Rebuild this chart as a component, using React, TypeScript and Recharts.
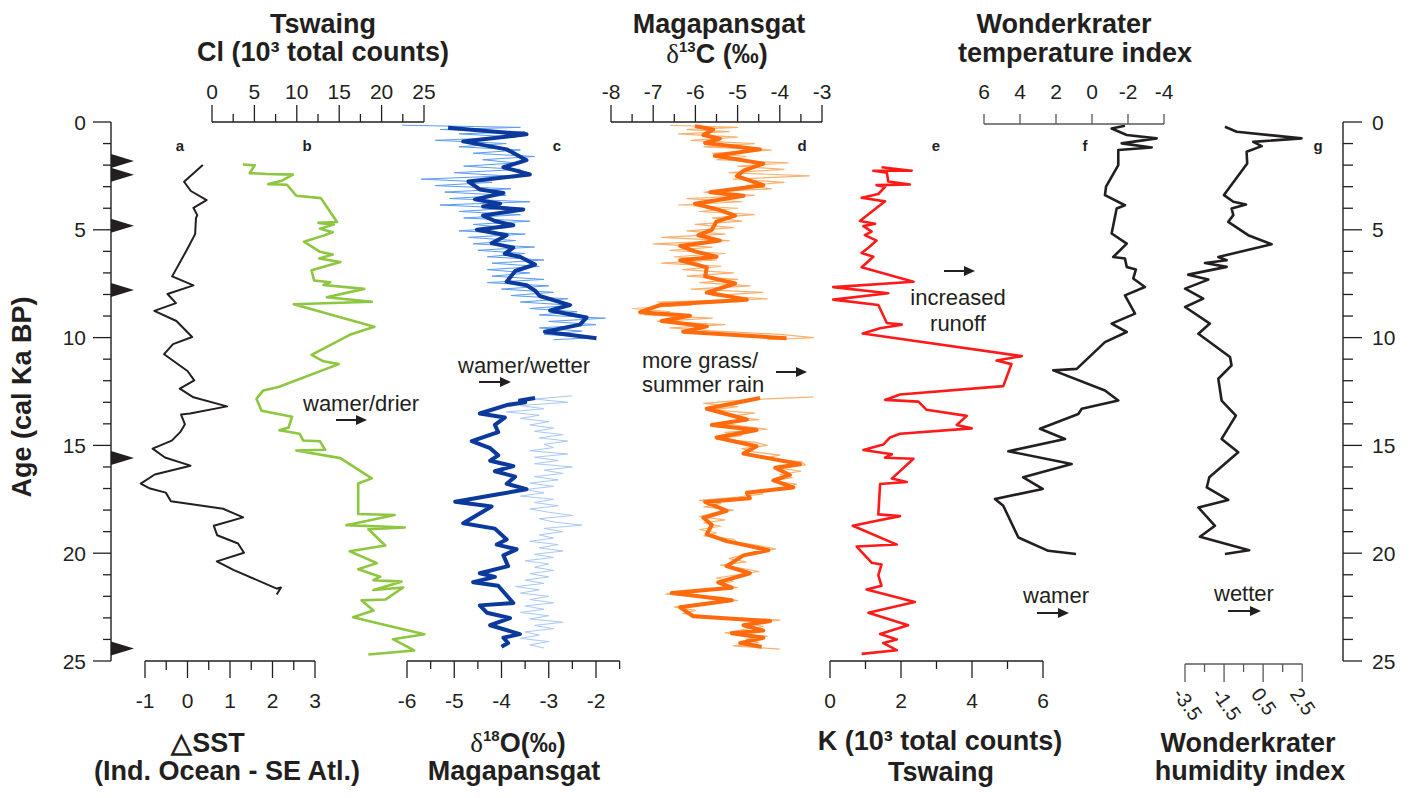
import React from "react";
import { ScatterChart, Scatter, XAxis, YAxis } from "recharts";

// ---- records as [age (cal ka BP), value] ----
const sstRecord: [number, number][] = [
  [2.0, 0.35], [2.77, -0.09], [3.2, 0.07], [3.62, 0.44], [3.98, 0.13], [4.32, 0.22], [4.46, 0.19],
  [5.2, 0.17], [5.95, -0.03], [7.16, -0.37], [7.58, 0.13], [7.98, -0.48], [8.4, -0.28], [8.76, -0.79],
  [9.23, -0.27], [9.97, 0.1], [10.3, -0.35], [10.77, -0.56], [11.55, -0.01], [11.98, 0.15], [12.37, -0.19],
  [12.77, 0.13], [13.19, 0.92], [13.52, 0.05], [13.57, -0.16], [14.02, -0.07], [14.36, -0.17], [14.78, -0.38],
  [15.15, -0.83], [15.56, -0.54], [15.94, 0.06], [16.35, -0.78], [16.77, -1.11], [17.0, -0.89], [17.19, -0.52],
  [17.59, -0.4], [17.94, 0.83], [18.34, 1.3], [18.73, 0.61], [19.17, 0.69], [19.55, 1.18], [19.98, 1.32],
  [20.38, 0.68], [20.77, 1.07], [21.64, 2.09], [21.59, 2.19], [21.92, 2.09],
];

const clRecord: [number, number][] = [
  [1.97, 3.7], [2.01, 5.1], [2.37, 4.5], [2.41, 6.5], [2.44, 9.6], [2.72, 8.3], [2.88, 6.7], [2.91, 8.9],
  [3.42, 10.0], [3.53, 12.9], [4.64, 14.8], [4.68, 12.6], [4.76, 14.4], [4.95, 12.8], [5.11, 14.3], [5.27, 13.2],
  [5.55, 10.9], [6.02, 12.8], [6.15, 14.3], [6.33, 12.7], [6.49, 15.2], [6.88, 11.8], [7.35, 12.1], [7.43, 14.0],
  [7.56, 13.2], [7.74, 18.0], [8.13, 13.6], [8.34, 18.9], [8.45, 9.7], [9.5, 19.2], [9.87, 16.3], [10.8, 11.8],
  [11.1, 13.2], [11.23, 15.0], [12.29, 7.9], [12.45, 6.1], [12.84, 5.3], [13.39, 5.9], [13.67, 9.5], [14.17, 9.1],
  [14.3, 8.0], [14.46, 10.4], [14.77, 10.8], [14.81, 12.8], [15.2, 13.4], [15.24, 10.0], [15.59, 15.2],
  [16.53, 18.9], [16.77, 17.3], [18.18, 17.3], [18.23, 21.6], [18.7, 15.9], [18.81, 22.8], [18.89, 18.5],
  [19.64, 20.5], [19.91, 16.3], [20.46, 19.5], [20.74, 17.3], [21.09, 19.9], [21.25, 19.1], [21.32, 22.4],
  [21.71, 19.1], [21.59, 22.6], [22.15, 20.5], [22.19, 17.7], [22.66, 19.1], [22.97, 16.7], [23.3, 20.1],
  [23.76, 25.1], [23.99, 21.4], [24.51, 23.9], [24.7, 18.5],
];

const d18oUpper: [number, number][] = [
  [0.27, -5.13], [0.57, -3.47], [0.9, -4.81], [1.27, -3.89], [1.77, -3.47], [2.1, -3.96], [2.43, -3.4],
  [2.76, -4.7], [3.13, -4.46], [3.29, -3.96], [3.59, -4.56], [3.79, -4.03], [3.92, -4.39], [4.06, -3.54],
  [4.34, -4.39], [4.59, -4.14], [4.79, -3.75], [5.0, -4.52], [5.25, -3.89], [5.62, -4.21], [5.83, -3.75],
  [6.11, -3.93], [6.25, -3.61], [6.61, -3.29], [6.91, -3.71], [7.41, -3.89], [7.57, -3.47], [7.82, -3.29],
  [8.07, -3.19], [8.49, -2.55], [8.74, -2.97], [9.07, -2.2], [9.4, -2.34], [9.73, -3.08], [10.03, -1.99],
];

const d18oLower: [number, number][] = [
  [12.8, -3.29], [12.92, -3.61], [13.0, -3.5], [13.13, -3.89], [13.52, -4.46], [13.71, -3.93], [14.05, -4.14],
  [14.38, -4.07], [14.8, -4.63], [15.13, -4.24], [15.46, -4.07], [15.71, -4.24], [15.96, -3.75], [16.2, -4.14],
  [16.45, -3.71], [16.78, -3.89], [17.03, -3.47], [17.28, -4.1], [17.61, -4.98], [17.83, -4.21], [18.61, -4.81],
  [18.86, -4.14], [19.36, -3.89], [19.6, -4.1], [19.82, -3.68], [20.1, -3.96], [20.6, -3.86], [20.93, -4.46],
  [21.1, -4.14], [21.35, -4.6], [21.51, -4.07], [22.31, -3.75], [22.42, -4.46], [22.76, -4.31], [23.01, -3.82],
  [23.34, -4.24], [23.75, -3.61], [23.92, -3.96], [24.17, -3.86], [24.34, -4.0],
];

// raw (unsmoothed) d18O, thin light blue
const d18oRawUpper: [number, number][] = [
  [0.15, -6.1], [0.25, -3.6], [0.35, -5.3], [0.45, -3.5], [0.55, -4.9], [0.7, -3.7], [0.85, -5.4], [1.0, -3.9],
  [1.15, -4.9], [1.3, -3.6], [1.45, -4.6], [1.6, -3.3], [1.75, -4.4], [1.9, -3.7], [2.05, -4.8], [2.2, -3.6],
  [2.35, -5.0], [2.5, -3.9], [2.65, -5.7], [2.8, -4.2], [2.95, -5.4], [3.1, -3.8], [3.25, -5.2], [3.4, -3.9],
  [3.55, -5.1], [3.7, -3.4], [3.85, -5.3], [4.0, -3.8], [4.15, -4.9], [4.3, -3.6], [4.45, -4.8], [4.6, -3.4],
  [4.75, -4.6], [4.9, -3.9], [5.05, -4.9], [5.2, -3.5], [5.35, -4.7], [5.5, -3.7], [5.65, -4.6], [5.8, -3.3],
  [5.95, -4.5], [6.1, -3.5], [6.25, -4.3], [6.4, -3.1], [6.55, -4.2], [6.7, -3.2], [6.85, -4.3], [7.0, -3.4],
  [7.15, -4.2], [7.3, -3.1], [7.45, -4.3], [7.6, -3.0], [7.75, -4.0], [7.9, -2.9], [8.05, -3.8], [8.2, -2.6],
  [8.35, -3.6], [8.5, -2.5], [8.65, -3.4], [8.8, -2.4], [8.95, -3.2], [9.1, -1.8], [9.25, -3.0], [9.4, -2.0],
  [9.55, -3.2], [9.7, -2.3], [9.85, -3.1], [10.0, -2.0], [10.1, -2.9],
];

const d18oRawLower: [number, number][] = [
  [12.7, -2.5], [12.85, -3.3], [13.0, -2.6], [13.15, -3.6], [13.3, -3.1], [13.45, -3.9], [13.6, -3.2],
  [13.75, -3.6], [13.9, -3.0], [14.05, -3.4], [14.2, -2.9], [14.35, -3.3], [14.5, -2.7], [14.65, -3.2],
  [14.8, -2.6], [14.95, -3.1], [15.1, -2.9], [15.25, -3.4], [15.4, -2.6], [15.55, -3.3], [15.7, -2.8],
  [15.85, -3.3], [16.0, -2.5], [16.15, -3.1], [16.3, -2.7], [16.45, -3.3], [16.6, -2.8], [16.75, -3.4],
  [16.9, -2.9], [17.05, -3.5], [17.2, -3.1], [17.35, -3.6], [17.5, -2.9], [17.65, -3.3], [17.8, -2.8],
  [17.95, -3.4], [18.1, -3.0], [18.25, -2.5], [18.4, -3.2], [18.55, -2.9], [18.7, -2.3], [18.85, -3.1],
  [19.0, -2.7], [19.15, -3.2], [19.3, -2.9], [19.45, -3.4], [19.6, -2.8], [19.75, -3.2], [19.9, -2.7],
  [20.05, -3.3], [20.2, -2.9], [20.35, -3.5], [20.5, -3.0], [20.65, -3.3], [20.8, -2.9], [20.95, -3.4],
  [21.1, -3.0], [21.25, -3.5], [21.4, -3.1], [21.55, -3.7], [21.7, -3.2], [21.85, -3.6], [22.0, -3.0],
  [22.15, -3.4], [22.3, -2.9], [22.45, -3.5], [22.6, -3.1], [22.75, -3.6], [22.9, -3.0], [23.05, -3.4],
  [23.2, -2.7], [23.35, -3.3], [23.5, -2.9], [23.65, -3.5], [23.8, -3.2], [23.95, -3.6], [24.1, -3.0],
  [24.25, -3.4], [24.4, -3.1],
];

const d13cUpper: [number, number][] = [
  [0.19, -6.01], [0.35, -5.58], [0.6, -5.81], [0.77, -5.42], [0.97, -5.77], [1.27, -4.47], [1.57, -5.54],
  [1.93, -4.39], [2.26, -4.86], [2.51, -5.02], [2.93, -4.39], [3.26, -5.65], [3.42, -4.86], [3.79, -6.01],
  [4.09, -5.42], [4.34, -5.06], [4.62, -5.5], [5.0, -5.61], [5.25, -5.93], [5.5, -5.42], [5.75, -6.36],
  [6.0, -6.01], [6.25, -5.5], [6.41, -6.36], [6.74, -5.73], [7.16, -5.77], [7.49, -5.06], [7.91, -5.73],
  [8.24, -4.78], [8.49, -6.84], [8.82, -7.31], [8.99, -6.13], [9.23, -6.8], [9.48, -5.73], [9.73, -6.29],
  [10.03, -3.84],
];

const d13cLower: [number, number][] = [
  [12.8, -4.47], [13.3, -5.73], [13.8, -4.78], [14.05, -5.61], [14.29, -4.55], [14.63, -5.5], [15.04, -4.55],
  [15.38, -4.86], [15.87, -3.52], [16.04, -4.11], [16.37, -3.76], [16.62, -4.15], [16.95, -3.68], [17.2, -4.78],
  [17.45, -4.71], [17.62, -5.77], [18.03, -5.26], [18.36, -5.81], [18.69, -5.61], [19.11, -5.73], [19.44, -5.26],
  [19.86, -4.27], [20.1, -4.86], [20.6, -5.26], [20.93, -4.71], [21.35, -5.46], [21.6, -5.14], [21.85, -6.56],
  [22.18, -5.14], [22.51, -6.36], [22.93, -6.05], [23.15, -4.23], [23.34, -4.86], [23.59, -4.39], [23.71, -5.14],
  [23.92, -4.39], [24.17, -4.94], [24.34, -4.43],
];

const d13cRawUpper: [number, number][] = [
  [0.15, -6.6], [0.25, -5.0], [0.35, -6.2], [0.45, -5.2], [0.55, -6.4], [0.7, -5.0], [0.85, -6.1], [1.0, -4.6],
  [1.15, -5.8], [1.3, -4.2], [1.45, -5.6], [1.6, -4.8], [1.75, -5.5], [1.9, -3.8], [2.05, -5.0], [2.2, -3.9],
  [2.35, -5.2], [2.5, -3.3], [2.65, -5.1], [2.8, -3.9], [2.95, -4.8], [3.1, -4.2], [3.25, -5.8], [3.4, -4.6],
  [3.55, -6.2], [3.7, -4.9], [3.85, -6.4], [4.0, -5.0], [4.15, -5.9], [4.3, -4.6], [4.45, -5.6], [4.6, -4.9],
  [4.75, -6.0], [4.9, -5.1], [5.05, -6.2], [5.2, -5.3], [5.35, -6.8], [5.5, -5.2], [5.65, -7.0], [5.8, -5.6],
  [5.95, -6.6], [6.1, -5.3], [6.25, -6.5], [6.4, -5.5], [6.55, -6.8], [6.7, -5.4], [6.85, -6.3], [7.0, -5.1],
  [7.15, -6.2], [7.3, -5.0], [7.45, -5.9], [7.6, -4.7], [7.75, -6.1], [7.9, -4.4], [8.05, -5.6], [8.2, -4.3],
  [8.35, -6.9], [8.5, -6.1], [8.65, -7.5], [8.8, -6.6], [8.95, -7.2], [9.1, -5.6], [9.25, -6.9], [9.4, -5.3],
  [9.55, -6.6], [9.7, -5.5], [9.85, -4.0], [10.0, -3.2], [10.1, -4.3],
];

const d13cRawLower: [number, number][] = [
  [12.75, -3.2], [12.9, -4.9], [13.05, -5.8], [13.2, -5.0], [13.35, -5.6], [13.5, -4.6], [13.65, -5.2],
  [13.8, -4.5], [13.95, -5.4], [14.1, -4.9], [14.25, -4.3], [14.4, -5.3], [14.55, -4.9], [14.7, -5.5],
  [14.85, -4.6], [15.0, -4.3], [15.15, -4.9], [15.3, -4.6], [15.45, -4.0], [15.6, -4.4], [15.75, -3.5],
  [15.9, -3.4], [16.05, -4.0], [16.2, -3.5], [16.35, -4.0], [16.5, -3.7], [16.65, -4.2], [16.8, -3.6],
  [16.95, -3.9], [17.1, -4.5], [17.25, -4.4], [17.4, -5.0], [17.55, -5.9], [17.7, -5.4], [17.85, -5.8],
  [18.0, -5.1], [18.15, -5.6], [18.3, -5.9], [18.45, -5.3], [18.6, -5.8], [18.75, -5.4], [18.9, -5.9],
  [19.05, -5.5], [19.2, -5.8], [19.35, -5.1], [19.5, -5.0], [19.65, -4.5], [19.8, -4.1], [19.95, -4.6],
  [20.1, -4.9], [20.25, -5.2], [20.4, -4.8], [20.55, -5.4], [20.7, -4.9], [20.85, -4.5], [21.0, -5.0],
  [21.15, -5.5], [21.3, -5.1], [21.45, -5.4], [21.6, -5.0], [21.75, -6.2], [21.9, -6.7], [22.05, -5.4],
  [22.2, -5.0], [22.35, -6.0], [22.5, -6.5], [22.65, -6.0], [22.8, -6.3], [22.95, -5.5], [23.1, -4.0],
  [23.25, -4.7], [23.4, -4.4], [23.55, -4.9], [23.7, -5.3], [23.85, -4.3], [24.0, -4.8], [24.15, -4.5],
  [24.3, -5.1], [24.45, -4.0],
];

const kRecord: [number, number][] = [
  [2.1, 1.44], [2.26, 2.29], [2.26, 1.21], [2.35, 1.59], [2.76, 1.63], [2.9, 2.24], [2.93, 1.3], [3.01, 1.54],
  [3.34, 1.35], [3.51, 0.88], [3.68, 1.54], [4.59, 0.83], [4.72, 1.26], [4.83, 0.93], [5.08, 1.16], [5.25, 0.97],
  [5.5, 1.3], [5.83, 1.07], [6.08, 0.88], [6.25, 1.21], [6.74, 0.88], [7.41, 2.34], [7.66, 0.08], [7.94, 1.63],
  [8.24, 0.08], [8.49, 1.35], [9.32, 1.59], [9.4, 2.01], [9.57, 1.4], [9.81, 0.91], [10.86, 5.39], [11.06, 4.68],
  [11.23, 5.1], [12.25, 4.87], [12.64, 1.96], [12.89, 1.54], [12.97, 2.48], [13.35, 2.71], [13.63, 3.84],
  [14.05, 3.56], [14.21, 3.98], [14.46, 1.96], [14.63, 1.68], [14.96, 1.49], [15.21, 0.93], [15.41, 1.73],
  [15.57, 1.54], [15.62, 2.34], [16.54, 1.73], [16.7, 2.15], [16.79, 1.4], [18.2, 1.35], [18.28, 1.96],
  [18.53, 1.21], [18.73, 0.63], [19.6, 1.87], [19.69, 0.74], [20.44, 1.16], [20.52, 1.44], [21.02, 1.35],
  [21.51, 1.44], [21.68, 1.02], [22.26, 2.38], [22.76, 1.07], [23.34, 2.19], [23.75, 1.4], [24.0, 1.87],
  [24.17, 1.49], [24.5, 1.87], [24.67, 0.88],
];

const tempRecord: [number, number][] = [
  [0.17, -1.83], [0.3, -1.09], [0.6, -1.93], [0.76, -3.59], [0.99, -1.65], [1.18, -3.32], [1.3, -1.46],
  [2.0, -1.46], [3.0, -0.78], [3.39, -0.72], [3.86, -1.83], [4.01, -1.37], [5.17, -1.09], [5.64, -1.93],
  [6.26, -1.18], [6.33, -1.83], [6.72, -1.93], [6.84, -2.44], [7.26, -2.29], [7.65, -2.94], [8.04, -1.83],
  [8.89, -2.39], [9.35, -1.09], [9.74, -1.93], [10.21, -0.72], [11.45, 0.85], [11.52, 2.15], [12.45, -0.72],
  [12.92, -1.46], [13.3, 0.57], [13.54, 0.76], [14.23, 2.89], [14.7, 1.5], [15.27, 4.65], [15.86, 1.13],
  [16.48, 3.82], [17.02, 2.74], [17.49, 5.39], [17.8, 4.93], [19.27, 4.09], [19.89, 2.43], [20.04, 0.89],
];

const humidityRecord: [number, number][] = [
  [0.22, -1.43], [0.45, -0.83], [0.76, 2.49], [0.92, 0.02], [1.12, 0.45], [1.38, -0.32], [1.92, -0.29],
  [3.39, -1.48], [3.7, -1.0], [3.83, -0.35], [4.01, -1.09], [4.32, -1.0], [4.63, -1.26], [5.25, -0.24],
  [5.67, 0.96], [6.26, -1.77], [6.41, -1.34], [6.54, -2.45], [6.72, -1.34], [7.08, -3.31], [7.31, -2.28],
  [7.73, -3.47], [8.19, -2.54], [8.58, -3.47], [9.35, -2.2], [9.82, -2.79], [10.9, -1.17], [11.29, -1.09],
  [11.91, -1.77], [12.92, -1.6], [13.62, -0.87], [14.7, -1.6], [15.32, -0.75], [16.48, -2.23], [16.95, -2.36],
  [17.53, -1.26], [17.88, -2.79], [18.73, -1.94], [19.24, -2.71], [19.86, -0.19], [20.04, -1.43],
];

// dated levels marked on the age axis
const dateMarkerAges = [1.81, 2.45, 4.81, 7.79, 15.58, 24.42];

// ---- ticks ----
const ageTicks = [0, 1, 2, 3, 4, 5, 6, 7, 8, 9, 10, 11, 12, 13, 14, 15, 16, 17, 18, 19, 20, 21, 22, 23, 24, 25];
const sstTicks = [-1, -0.5, 0, 0.5, 1, 1.5, 2, 2.5, 3];
const clTicks = [0, 2.5, 5, 7.5, 10, 12.5, 15, 17.5, 20, 22.5, 25];
const d18oTicks = [-6, -5.5, -5, -4.5, -4, -3.5, -3, -2.5, -2, -1.5];
const d13cTicks = [-8, -7.5, -7, -6.5, -6, -5.5, -5, -4.5, -4, -3.5, -3];
const kTicks = [0, 1, 2, 3, 4, 5, 6];
const tempTicks = [6, 4, 2, 0, -2, -4];
const humidityTicks = [-3.5, -2.5, -1.5, -0.5, 0.5, 1.5, 2.5];
const humidityLabels = [-3.5, -1.5, 0.5, 2.5];

// ---- layout ----
const W = 1418;
const H = 798;
const PLOT_TOP = 122;
const PLOT_BOTTOM = 661;
const PLOT_LEFT = 111;
const PLOT_RIGHT = 1343;
const PAD = 30;
const AH = 80;

const SANS = '"Liberation Sans", Arial, Helvetica, sans-serif';
const SERIF = '"Liberation Serif", "Times New Roman", serif';
const INK = "#231f20";
const GREY = "#58595b";
const GREEN = "#8dc63f";
const NAVY = "#0b3a9c";
const SKY = "#5b9cf2";
const SKY_PALE = "#a9c8f6";
const ORANGE = "#ff6a0d";
const PEACH = "#f9b16e";
const RED = "#ff1a1a";

type Scale = { v0: number; v1: number; p0: number; p1: number };

// value -> pixel anchors of each panel's own axis
const scales: Record<string, Scale> = {
  sst: { v0: -1, v1: 3, p0: 145.4, p1: 315.4 },
  cl: { v0: 0, v1: 25, p0: 211.5, p1: 423.5 },
  d18o: { v0: -6, v1: -2, p0: 407, p1: 596 },
  d13c: { v0: -8, v1: -3, p0: 611, p1: 822 },
  k: { v0: 0, v1: 6, p0: 830.4, p1: 1043.4 },
  temp: { v0: 6, v1: -4, p0: 984, p1: 1164 },
  hum: { v0: -3.5, v1: 2.5, p0: 1184.5, p1: 1301.7 },
};

// domain of a hidden axis spanning the whole plot so the panel lines up with its own axis
function plotDomain(s: Scale) {
  const m = (s.v1 - s.v0) / (s.p1 - s.p0);
  const a = s.v0 + (PLOT_LEFT - s.p0) * m;
  const b = s.v0 + (PLOT_RIGHT - s.p0) * m;
  return { domain: [Math.min(a, b), Math.max(a, b)] as [number, number], reversed: m < 0 };
}

const toPoints = (rec: [number, number][]) => rec.map(([age, v]) => ({ x: v, y: age }));

const noShape = () => <g />;

function Triangle(props: any) {
  const { cx, cy } = props;
  if (cx == null || cy == null) return <g />;
  return <polygon points={`${cx},${cy - 7} ${cx + 23},${cy} ${cx},${cy + 7}`} fill={INK} />;
}

function leftAgeTick(props: any) {
  const { x, y, payload } = props;
  const major = payload.value % 5 === 0;
  return (
    <g>
      <line x1={x - (major ? 18 : 8)} y1={y} x2={x} y2={y} stroke={INK} strokeWidth={1.3} />
      {major && (
        <text x={x - 25} y={y + 7.5} textAnchor="end" fontFamily={SANS} fontSize={21} fill={INK}>
          {payload.value}
        </text>
      )}
    </g>
  );
}

function rightAgeTick(props: any) {
  const { x, y, payload } = props;
  const major = payload.value % 5 === 0;
  return (
    <g>
      <line x1={x} y1={y} x2={x + (major ? 19 : 10)} y2={y} stroke={INK} strokeWidth={1.3} />
      {major && (
        <text x={x + 29} y={y + 7.5} textAnchor="start" fontFamily={SANS} fontSize={21} fill={INK}>
          {payload.value}
        </text>
      )}
    </g>
  );
}

type AxisSpec = {
  scale: Scale;
  start: number;
  end: number;
  y: number;
  side: "top" | "bottom";
  ticks: number[];
  isMajor: (v: number) => boolean;
  labels: number[];
  majorLen: number;
  minorLen: number;
  labelGap: number;
  stroke: string;
  rotate?: number;
};

const makeTick = (spec: AxisSpec) => (props: any) => {
  const { x, y, payload } = props;
  const v = payload.value as number;
  const dir = spec.side === "top" ? -1 : 1;
  const len = spec.isMajor(v) ? spec.majorLen : spec.minorLen;
  const show = spec.labels.includes(v);
  return (
    <g>
      <line x1={x} y1={y} x2={x} y2={y + dir * len} stroke={spec.stroke} strokeWidth={1.3} />
      {show && !spec.rotate && (
        <text x={x} y={y + dir * spec.labelGap} textAnchor="middle" fontFamily={SANS} fontSize={21} fill={INK}>
          {String(v)}
        </text>
      )}
      {show && spec.rotate && (
        <text
          x={x - 13}
          y={y + 30}
          textAnchor="start"
          fontFamily={SANS}
          fontSize={20}
          fill={INK}
          transform={`rotate(${spec.rotate} ${x - 13} ${y + 30})`}
        >
          {String(v)}
        </text>
      )}
    </g>
  );
};

function PanelAxis({ spec }: { spec: AxisSpec }) {
  const s = spec.scale;
  const k = (s.p1 - s.p0) / (s.v1 - s.v0);
  const px = (v: number) => s.p0 + (v - s.v0) * k;
  const a = px(spec.start);
  const b = px(spec.end);
  const left = Math.min(a, b) - PAD;
  const span = Math.abs(b - a);
  const lo = Math.min(spec.start, spec.end);
  const hi = Math.max(spec.start, spec.end);
  const top = spec.side === "top" ? spec.y - AH : spec.y - 4;
  return (
    <div style={{ position: "absolute", left, top }}>
      <ScatterChart width={span + 2 * PAD} height={AH + 4} margin={{ top: 0, right: PAD, bottom: 0, left: PAD }}>
        <XAxis
          type="number"
          dataKey="x"
          orientation={spec.side}
          height={AH}
          domain={[lo, hi]}
          reversed={k < 0}
          allowDataOverflow
          ticks={spec.ticks}
          interval={0}
          tickSize={0}
          tickMargin={0}
          tickLine={false}
          axisLine={{ stroke: spec.stroke, strokeWidth: 1.3 }}
          tick={makeTick(spec)}
        />
        <YAxis type="number" dataKey="y" domain={[0, 1]} hide />
      </ScatterChart>
    </div>
  );
}

const isInt = (v: number) => Number.isInteger(v);

const axisSpecs: AxisSpec[] = [
  { scale: scales.cl, start: 0, end: 25, y: 122, side: "top", ticks: clTicks, isMajor: (v) => v % 5 === 0, labels: [0, 5, 10, 15, 20, 25], majorLen: 17, minorLen: 8, labelGap: 23, stroke: INK },
  { scale: scales.d13c, start: -8, end: -3, y: 122, side: "top", ticks: d13cTicks, isMajor: isInt, labels: [-8, -7, -6, -5, -4, -3], majorLen: 17, minorLen: 8, labelGap: 23, stroke: INK },
  { scale: scales.temp, start: 6, end: -4, y: 124, side: "top", ticks: tempTicks, isMajor: () => true, labels: tempTicks, majorLen: 10, minorLen: 10, labelGap: 25, stroke: GREY },
  { scale: scales.sst, start: -1, end: 3, y: 661, side: "bottom", ticks: sstTicks, isMajor: isInt, labels: [-1, 0, 1, 2, 3], majorLen: 17, minorLen: 9, labelGap: 47, stroke: INK },
  { scale: scales.d18o, start: -6, end: -1.5, y: 661, side: "bottom", ticks: d18oTicks, isMajor: isInt, labels: [-6, -5, -4, -3, -2], majorLen: 17, minorLen: 8, labelGap: 47, stroke: INK },
  { scale: scales.k, start: 0, end: 6, y: 661, side: "bottom", ticks: kTicks, isMajor: (v) => v % 2 === 0, labels: [0, 2, 4, 6], majorLen: 17, minorLen: 8, labelGap: 47, stroke: INK },
  { scale: scales.hum, start: -3.5, end: 2.5, y: 664, side: "bottom", ticks: humidityTicks, isMajor: (v) => humidityLabels.includes(v), labels: humidityLabels, majorLen: 18, minorLen: 8, labelGap: 0, stroke: GREY, rotate: 55 },
];

function Arrow({ x1, x2, y }: { x1: number; x2: number; y: number }) {
  return (
    <g>
      <line x1={x1} y1={y} x2={x2 - 9} y2={y} stroke={INK} strokeWidth={2} />
      <polygon points={`${x2 - 11},${y - 5} ${x2},${y} ${x2 - 11},${y + 5}`} fill={INK} />
    </g>
  );
}

function Labels() {
  const title = { fontFamily: SANS, fontSize: 27, fontWeight: 700, fill: INK, textAnchor: "middle" as const };
  const note = { fontFamily: SANS, fontSize: 22, fill: INK };
  const letter = { fontFamily: SANS, fontSize: 15, fontWeight: 700, fill: INK, textAnchor: "middle" as const };
  return (
    <svg width={W} height={H} style={{ position: "absolute", left: 0, top: 0, pointerEvents: "none" }}>
      <text {...title} x={323} y={33}>Tswaing</text>
      <text {...title} x={323} y={61}>Cl (10³ total counts)</text>
      <text {...title} x={719} y={33}>Magapansgat</text>
      <text {...title} x={717} y={63}>
        <tspan fontFamily={SERIF} fontWeight={400}>δ</tspan>
        <tspan fontSize={15} dy={-11}>13</tspan>
        <tspan dy={11}>C (‰)</tspan>
      </text>
      <text {...title} x={1064} y={33}>Wonderkrater</text>
      <text {...title} x={1075} y={62}>temperature index</text>

      <text {...title} x={31} y={397} transform="rotate(-90 31 397)">Age (cal Ka BP)</text>

      <text {...title} x={208} y={752}>△SST</text>
      <text {...title} x={227} y={780}>(Ind. Ocean - SE Atl.)</text>
      <text {...title} x={518} y={752}>
        <tspan fontFamily={SERIF} fontWeight={400}>δ</tspan>
        <tspan fontSize={15} dy={-11}>18</tspan>
        <tspan dy={11}>O(‰)</tspan>
      </text>
      <text {...title} x={514} y={780}>Magapansgat</text>
      <text {...title} x={940} y={750}>K (10³ total counts)</text>
      <text {...title} x={941} y={781}>Tswaing</text>
      <text {...title} x={1248} y={752}>Wonderkrater</text>
      <text {...title} x={1250} y={780}>humidity index</text>

      <text {...letter} x={180} y={151}>a</text>
      <text {...letter} x={307} y={151}>b</text>
      <text {...letter} x={557} y={151}>c</text>
      <text {...letter} x={802} y={151}>d</text>
      <text {...letter} x={936} y={151}>e</text>
      <text {...letter} x={1085} y={151}>f</text>
      <text {...letter} x={1318} y={151}>g</text>

      <text {...note} x={303} y={411}>wamer/drier</text>
      <Arrow x1={336} x2={367} y={420} />
      <text {...note} x={458} y={373}>wamer/wetter</text>
      <Arrow x1={479} x2={511} y={382} />
      <text {...note} x={642} y={368}>more grass/</text>
      <text {...note} x={642} y={392}>summer rain</text>
      <Arrow x1={776} x2={807} y={372} />
      <Arrow x1={944} x2={975} y={271} />
      <text {...note} x={958} y={305} textAnchor="middle">increased</text>
      <text {...note} x={958} y={331} textAnchor="middle">runoff</text>
      <text {...note} x={1023} y={603}>wamer</text>
      <Arrow x1={1037} x2={1069} y={613} />
      <text {...note} x={1214} y={601}>wetter</text>
      <Arrow x1={1228} x2={1261} y={611} />
    </svg>
  );
}

export default function App() {
  const hidden = Object.entries(scales).map(([id, s]) => {
    const d = plotDomain(s);
    return (
      <XAxis
        key={id}
        xAxisId={id}
        type="number"
        dataKey="x"
        domain={d.domain}
        reversed={d.reversed}
        hide
      />
    );
  });
  const lineProps = (color: string, width: number) => ({
    line: { stroke: color, strokeWidth: width, strokeLinejoin: "round" as const },
    lineType: "joint" as const,
    shape: noShape,
    isAnimationActive: false,
  });
  return (
    <div style={{ position: "absolute", left: 0, top: 0, width: W, height: H, background: "#fff", overflow: "hidden" }}>
      <div style={{ position: "absolute", left: 0, top: 0 }}>
        <ScatterChart width={W} height={H} margin={{ top: PLOT_TOP, right: 0, bottom: H - PLOT_BOTTOM, left: 0 }}>
          <YAxis
            yAxisId="age"
            type="number"
            dataKey="y"
            domain={[0, 25]}
            reversed
            width={PLOT_LEFT}
            ticks={ageTicks}
            interval={0}
            tickSize={0}
            tickMargin={0}
            tickLine={false}
            axisLine={{ stroke: INK, strokeWidth: 1.4 }}
            tick={leftAgeTick}
          />
          <YAxis
            yAxisId="ageR"
            orientation="right"
            type="number"
            dataKey="y"
            domain={[0, 25]}
            reversed
            width={W - PLOT_RIGHT}
            ticks={ageTicks}
            interval={0}
            tickSize={0}
            tickMargin={0}
            tickLine={false}
            axisLine={{ stroke: INK, strokeWidth: 1.4 }}
            tick={rightAgeTick}
          />
          <XAxis xAxisId="frame" type="number" dataKey="x" domain={[0, 1]} hide />
          {hidden}

          <Scatter data={toPoints(sstRecord)} xAxisId="sst" yAxisId="age" {...lineProps(INK, 2)} />
          <Scatter data={toPoints(clRecord)} xAxisId="cl" yAxisId="age" {...lineProps(GREEN, 2.6)} />

          <Scatter data={toPoints(d18oRawUpper)} xAxisId="d18o" yAxisId="age" {...lineProps(SKY, 1)} />
          <Scatter data={toPoints(d18oRawLower)} xAxisId="d18o" yAxisId="age" {...lineProps(SKY_PALE, 1)} />
          <Scatter data={toPoints(d18oUpper)} xAxisId="d18o" yAxisId="age" {...lineProps(NAVY, 4)} />
          <Scatter data={toPoints(d18oLower)} xAxisId="d18o" yAxisId="age" {...lineProps(NAVY, 4)} />

          <Scatter data={toPoints(d13cRawUpper)} xAxisId="d13c" yAxisId="age" {...lineProps(PEACH, 1.2)} />
          <Scatter data={toPoints(d13cRawLower)} xAxisId="d13c" yAxisId="age" {...lineProps(PEACH, 1.2)} />
          <Scatter data={toPoints(d13cUpper)} xAxisId="d13c" yAxisId="age" {...lineProps(ORANGE, 4)} />
          <Scatter data={toPoints(d13cLower)} xAxisId="d13c" yAxisId="age" {...lineProps(ORANGE, 4)} />

          <Scatter data={toPoints(kRecord)} xAxisId="k" yAxisId="age" {...lineProps(RED, 2.6)} />
          <Scatter data={toPoints(tempRecord)} xAxisId="temp" yAxisId="age" {...lineProps(INK, 2.6)} />
          <Scatter data={toPoints(humidityRecord)} xAxisId="hum" yAxisId="ageR" {...lineProps(INK, 2.6)} />

          <Scatter
            data={dateMarkerAges.map((a) => ({ x: 0, y: a }))}
            xAxisId="frame"
            yAxisId="age"
            shape={Triangle}
            isAnimationActive={false}
          />
        </ScatterChart>
      </div>
      {axisSpecs.map((spec, i) => (
        <PanelAxis key={i} spec={spec} />
      ))}
      <Labels />
    </div>
  );
}
